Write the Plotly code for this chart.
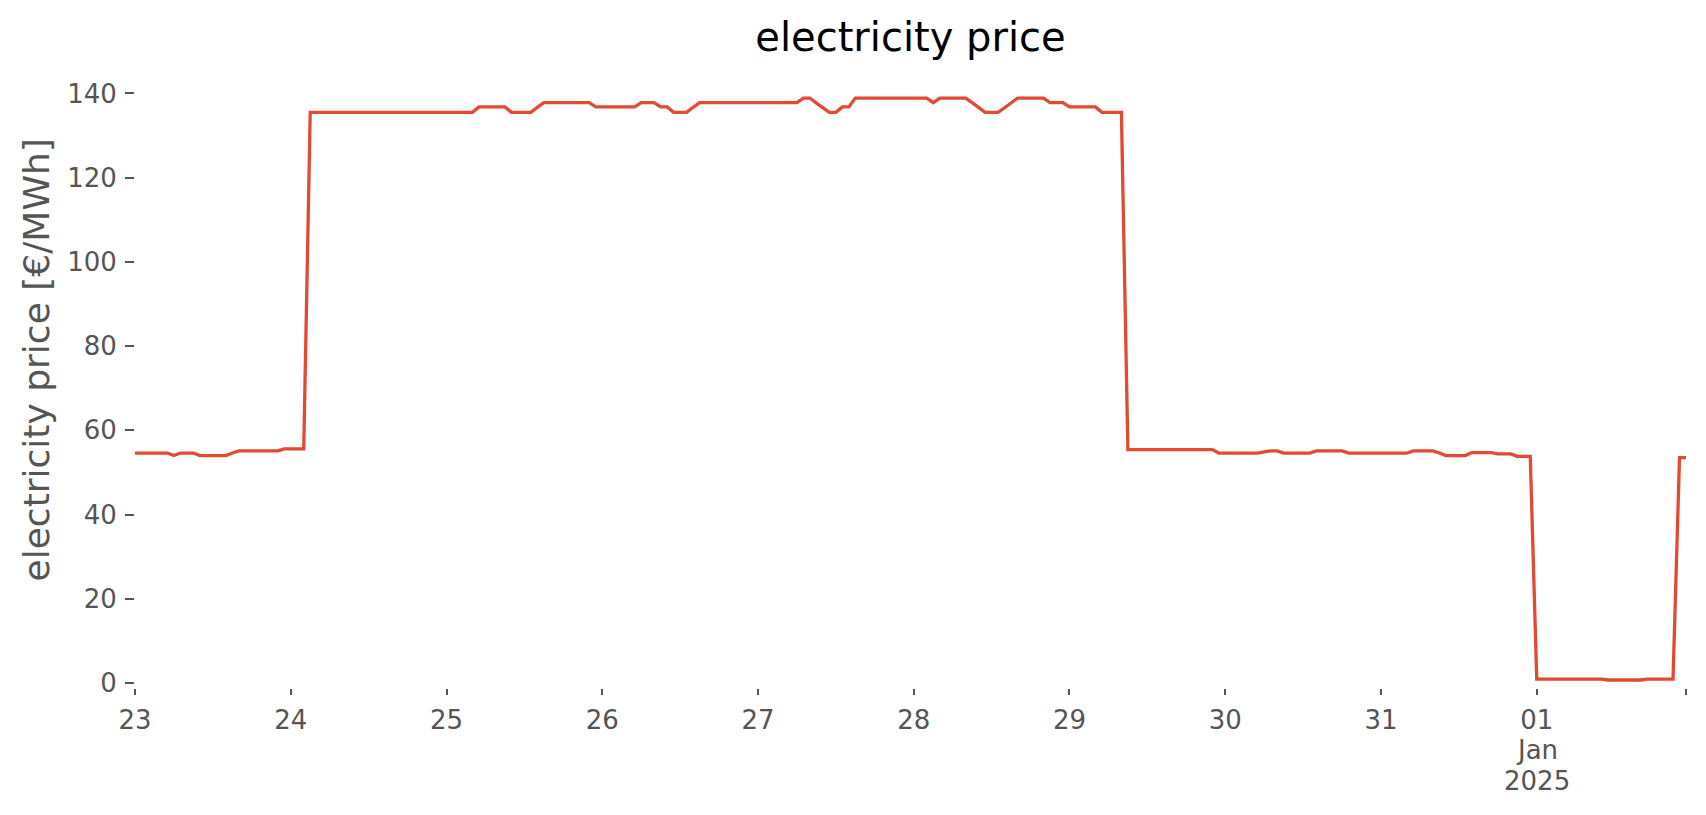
import pandas as pd
import plotly.graph_objects as go

start = "2024-12-23 00:00"
n_hours = 240

price = [
    # Dec 23
    54.6, 54.6, 54.6, 54.6, 54.6, 54.6, 54.0, 54.6, 54.6, 54.6, 54.0, 54.0,
    54.0, 54.0, 54.0, 54.6, 55.1, 55.1, 55.1, 55.1, 55.1, 55.1, 55.1, 55.6,
    # Dec 24
    55.6, 55.6, 55.6, 135.5, 135.5, 135.5, 135.5, 135.5, 135.5, 135.5, 135.5, 135.5,
    135.5, 135.5, 135.5, 135.5, 135.5, 135.5, 135.5, 135.5, 135.5, 135.5, 135.5, 135.5,
    # Dec 25
    135.5, 135.5, 135.5, 135.5, 135.5, 136.8, 136.8, 136.8, 136.8, 136.8, 135.5, 135.5,
    135.5, 135.5, 136.7, 137.8, 137.8, 137.8, 137.8, 137.8, 137.8, 137.8, 137.8, 136.8,
    # Dec 26
    136.8, 136.8, 136.8, 136.8, 136.8, 136.8, 137.8, 137.8, 137.8, 136.8, 136.8, 135.5,
    135.5, 135.5, 136.7, 137.8, 137.8, 137.8, 137.8, 137.8, 137.8, 137.8, 137.8, 137.8,
    # Dec 27
    137.8, 137.8, 137.8, 137.8, 137.8, 137.8, 137.8, 138.9, 138.9, 137.7, 136.5, 135.5,
    135.5, 136.8, 136.8, 138.9, 138.9, 138.9, 138.9, 138.9, 138.9, 138.9, 138.9, 138.9,
    # Dec 28
    138.9, 138.9, 138.9, 137.8, 138.9, 138.9, 138.9, 138.9, 138.9, 137.8, 136.6, 135.5,
    135.5, 135.5, 136.6, 137.8, 138.9, 138.9, 138.9, 138.9, 138.9, 137.8, 137.8, 137.8,
    # Dec 29
    136.8, 136.8, 136.8, 136.8, 136.8, 135.5, 135.5, 135.5, 135.5, 55.4, 55.4, 55.4,
    55.4, 55.4, 55.4, 55.4, 55.4, 55.4, 55.4, 55.4, 55.4, 55.4, 55.4, 54.6,
    # Dec 30
    54.6, 54.6, 54.6, 54.6, 54.6, 54.6, 54.9, 55.1, 55.1, 54.6, 54.6, 54.6,
    54.6, 54.6, 55.1, 55.1, 55.1, 55.1, 55.1, 54.6, 54.6, 54.6, 54.6, 54.6,
    # Dec 31
    54.6, 54.6, 54.6, 54.6, 54.6, 55.1, 55.1, 55.1, 55.1, 54.6, 54.0, 54.0,
    54.0, 54.0, 54.7, 54.7, 54.7, 54.7, 54.4, 54.4, 54.4, 53.8, 53.8, 53.8,
    # Jan 1
    0.9, 0.9, 0.9, 0.9, 0.9, 0.9, 0.9, 0.9, 0.9, 0.9, 0.9, 0.7,
    0.7, 0.7, 0.7, 0.7, 0.7, 0.9, 0.9, 0.9, 0.9, 0.9, 53.5, 53.5,
]

tick_dates = ["2024-12-23 00:00", "2024-12-24 00:00", "2024-12-25 00:00", "2024-12-26 00:00",
              "2024-12-27 00:00", "2024-12-28 00:00", "2024-12-29 00:00", "2024-12-30 00:00",
              "2024-12-31 00:00", "2025-01-01 00:00", "2025-01-01 23:00"]
tick_labels = ["23", "24", "25", "26", "27", "28", "29", "30", "31", "01", ""]
month_label = "Jan"
year_label = "2025"
month_date = "2025-01-01 00:00"

y_ticks = [0, 20, 40, 60, 80, 100, 120, 140]

times = pd.date_range(start, periods=n_hours, freq="h")

fig = go.Figure()
fig.add_trace(go.Scatter(
    x=times, y=price, mode="lines",
    line=dict(color="#E24A33", width=3.3),
    showlegend=False,
))

# page has an 8px body margin; figure sized to fit inside the 1706x815 window
W, H = 1690, 799
left, right = 127, 1678
top, bottom = 29, 680.5
pw, ph = right - left, bottom - top

fig.update_layout(
    width=W, height=H,
    paper_bgcolor="white", plot_bgcolor="white",
    margin=dict(l=left, r=W - right, t=top, b=H - bottom, pad=0, autoexpand=False),
    font=dict(family="DejaVu Sans", color="#555555", size=26),
    title=dict(text="electricity price", x=0.5 * (left + right) / W, xanchor="center",
               y=1 - 29 / H, yanchor="middle", yref="container",
               font=dict(size=40, color="black", family="DejaVu Sans")),
)
fig.update_xaxes(
    range=[times[0], times[-1]], automargin=False,
    tickvals=tick_dates, ticktext=tick_labels,
    ticks="outside", ticklen=6, tickwidth=2, tickcolor="#555555",
    ticklabelstandoff=3,
    showgrid=False, zeroline=False, showline=False,
    tickfont=dict(size=26, color="#555555"),
)
fig.update_yaxes(
    range=[-1.2, 153.4], automargin=False,
    tickvals=y_ticks,
    ticks="outside", ticklen=9, tickwidth=2, tickcolor="#555555",
    ticklabelstandoff=3,
    showgrid=False, zeroline=False, showline=False,
    tickfont=dict(size=26, color="#555555"),
)
for txt, yc in [(month_label, 743.0), (year_label, 773.5)]:
    fig.add_annotation(
        text=txt, xref="x", yref="paper", x=month_date, y=(bottom - yc) / ph,
        xanchor="center", yanchor="middle", showarrow=False,
        font=dict(size=26, color="#555555", family="DejaVu Sans"),
    )
fig.add_annotation(
    text="electricity price [€/MWh]", textangle=-90,
    xref="paper", yref="paper",
    x=(28 - left) / pw, y=(bottom - 352.7) / ph,
    xanchor="center", yanchor="middle", showarrow=False,
    font=dict(size=36, color="#555555", family="DejaVu Sans"),
)

fig.write_html("out.html")
